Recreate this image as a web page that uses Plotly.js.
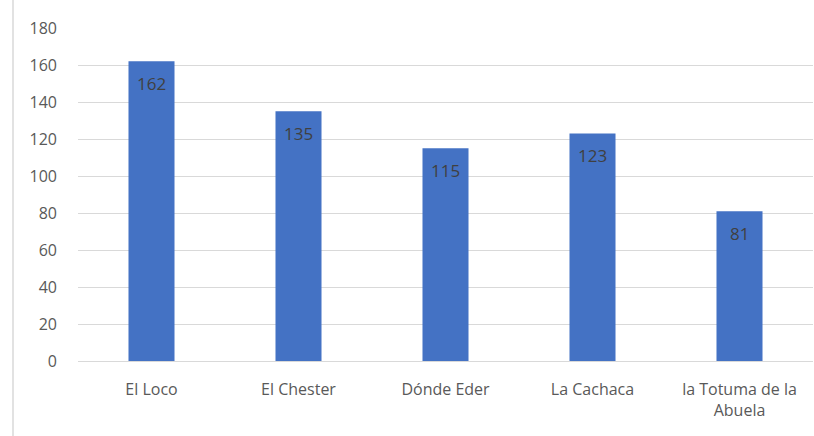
<!DOCTYPE html>
<html>
<head>
<meta charset="utf-8">
<script src="https://cdn.plot.ly/plotly-3.0.1.min.js"></script>
<style>html,body{margin:0;padding:0;background:#fff;}#chart{width:814px;height:436px;}</style>
</head>
<body>
<div id="chart"></div>
<script>
const categories = ["El Loco", "El Chester", "Dónde Eder", "La Cachaca", "la Totuma de la<br>Abuela"];
const values = [162, 135, 115, 123, 81];
const yTicks = [0, 20, 40, 60, 80, 100, 120, 140, 160, 180];

const FONT = "Open Sans, Liberation Sans, sans-serif";

const trace = {
  type: "bar",
  x: categories,
  y: values,
  marker: {color: "#4472C4"},
  hoverinfo: "none"
};

const labels = categories.map((c, i) => ({
  x: c, y: values[i], xref: "x", yref: "y",
  text: String(values[i]), showarrow: false,
  yanchor: "middle", xanchor: "center", yshift: -22,
  font: {family: FONT, size: 17, color: "#404040"}
}));

const layout = {
  width: 814, height: 436,
  margin: {l: 78, r: 1, t: 28, b: 75},
  paper_bgcolor: "#fff", plot_bgcolor: "#fff",
  bargap: 0.687,
  showlegend: false,
  font: {family: FONT, color: "#595959", size: 16},
  xaxis: {
    showgrid: false, zeroline: false,
    showline: true, linecolor: "#d9d9d9", linewidth: 1,
    ticks: "", ticklabelstandoff: 14,
    tickfont: {family: FONT, size: 16, color: "#595959"}
  },
  yaxis: {
    range: [0, 180], tickvals: yTicks, ticktext: yTicks.map(String),
    showgrid: true, gridcolor: "#d9d9d9", gridwidth: 1,
    zeroline: false, showline: false, ticks: "",
    ticklabelstandoff: 20,
    tickfont: {family: FONT, size: 16, color: "#595959"}
  },
  annotations: labels,
  shapes: [{
    type: "line", xref: "paper", yref: "paper",
    x0: -65/735, x1: -65/735, y0: -75/333, y1: 1 + 28/333,
    line: {color: "#d9d9d9", width: 1.5}
  }]
};

Plotly.newPlot("chart", [trace], layout, {staticPlot: true, displayModeBar: false});
</script>
</body>
</html>
